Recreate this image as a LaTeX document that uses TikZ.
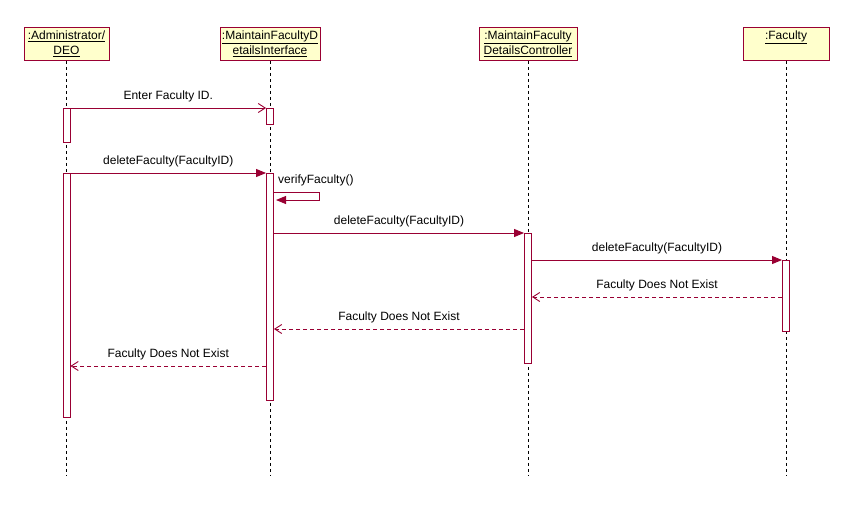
\documentclass[tikz,border=0pt]{standalone}
\usepackage{fontspec}
\setmainfont{Liberation Sans}
\usetikzlibrary{arrows.meta}
\definecolor{umlred}{HTML}{990033}
\definecolor{umlfill}{HTML}{FFFFCC}

\begin{document}
\begin{tikzpicture}[x=1pt,y=-1pt,
  font=\fontsize{12}{15}\selectfont,
  obj/.style={draw=umlred, fill=umlfill, line width=0.9pt, minimum height=33pt,
    inner sep=0pt, align=center, anchor=north, text depth=2pt},
  life/.style={draw=black, line width=0.8pt, dash pattern=on 3pt off 3pt},
  act/.style={draw=umlred, fill=white, line width=0.9pt, minimum width=7pt,
    inner sep=0pt, anchor=north},
  call/.style={draw=umlred, line width=0.9pt, -{Triangle[length=10pt,width=8pt]}},
  ask/.style={draw=umlred, line width=0.9pt, -{Straight Barb[length=7pt,width=9pt]}},
  reply/.style={draw=umlred, line width=0.9pt, dash pattern=on 4pt off 3pt,
    -{Straight Barb[length=7pt,width=9pt]}},
  lbl/.style={midway, anchor=base, yshift=9pt, inner sep=0pt}
]
\useasboundingbox (0,0) rectangle (849,512);

% object heads
\node[obj, minimum width=85pt] (admin) at (66.5,27)
  {\underline{:Administrator/}\\\underline{DEO}};
\node[obj, minimum width=100pt] (ui) at (270,27)
  {\underline{:MaintainFacultyD}\\\underline{etailsInterface}};
\node[obj, minimum width=98pt] (ctrl) at (528,27)
  {\underline{:MaintainFaculty}\\\underline{DetailsController}};
\node[obj, minimum width=86pt] (fac) at (786,27)
  {\underline{:Faculty}\\\mbox{}};

% lifelines
\coordinate (adminEnd) at (66.5,475);
\coordinate (uiEnd) at (270,475);
\coordinate (ctrlEnd) at (528,475);
\coordinate (facEnd) at (786,475);
\draw[life] (admin.south) -- (adminEnd);
\draw[life] (ui.south) -- (uiEnd);
\draw[life] (ctrl.south) -- (ctrlEnd);
\draw[life] (fac.south) -- (facEnd);

% activation bars
\node[act, minimum height=34pt]  (a1) at (66.5,108) {};
\node[act, minimum height=16pt]  (b1) at (270,108) {};
\node[act, minimum height=244pt] (a2) at (66.5,173) {};
\node[act, minimum height=227pt] (b2) at (270,173) {};
\node[act, minimum height=130pt] (c1) at (528,233) {};
\node[act, minimum height=71pt]  (d1) at (786,260) {};

% message rows
\coordinate (vfTop) at (319,192);
\coordinate (vfBot) at (319,200);
\coordinate (vfEnd) at (276,200);
\coordinate (r1y) at (0,297);
\coordinate (r2y) at (0,329);
\coordinate (r3y) at (0,366);

\draw[ask] (a1.north east) -- (b1.north west)
  node[lbl] {Enter Faculty ID.};
\draw[call] (a2.north east) -- (b2.north west)
  node[lbl] {deleteFaculty(FacultyID)};
\draw[call] (b2.east |- vfTop) -- (vfTop) -- (vfBot) -- (vfEnd);
\node[anchor=base west, inner sep=0pt] (vflbl) at (278,183) {verifyFaculty()};
\draw[call] (b2.east |- c1.north) -- (c1.north west)
  node[lbl] {deleteFaculty(FacultyID)};
\draw[call] (c1.east |- d1.north) -- (d1.north west)
  node[lbl] {deleteFaculty(FacultyID)};
\draw[reply] (d1.west |- r1y) -- (c1.east |- r1y)
  node[lbl] {Faculty Does Not Exist};
\draw[reply] (c1.west |- r2y) -- (b2.east |- r2y)
  node[lbl] {Faculty Does Not Exist};
\draw[reply] (b2.west |- r3y) -- (a2.east |- r3y)
  node[lbl] {Faculty Does Not Exist};
\end{tikzpicture}
\end{document}
